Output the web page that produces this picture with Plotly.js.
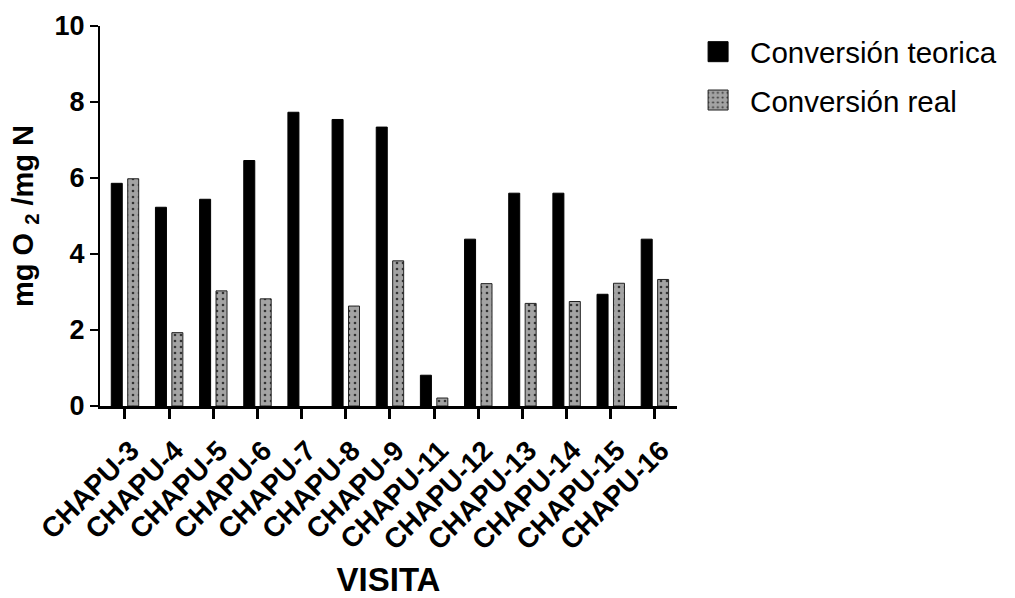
<!DOCTYPE html>
<html>
<head>
<meta charset="utf-8">
<script src="https://cdn.plot.ly/plotly-3.0.1.min.js"></script>
<style>html,body{margin:0;padding:0;background:#fff}#chart{width:1015px;height:598px}</style>
</head>
<body>
<div id="chart"></div>
<script>
const categories = ["CHAPU-3","CHAPU-4","CHAPU-5","CHAPU-6","CHAPU-7","CHAPU-8","CHAPU-9","CHAPU-11","CHAPU-12","CHAPU-13","CHAPU-14","CHAPU-15","CHAPU-16"];
const teorica = [5.86, 5.23, 5.44, 6.46, 7.73, 7.54, 7.34, 0.81, 4.39, 5.60, 5.60, 2.94, 4.39];
const real    = [5.98, 1.93, 3.03, 2.82, null, 2.63, 3.82, 0.21, 3.22, 2.70, 2.75, 3.23, 3.33];
const yTicks = [0, 2, 4, 6, 8, 10];

const FONT = "Arial, 'Liberation Sans', sans-serif";

const traces = [
  {
    type: "bar", name: "Conversión teorica", x: categories, y: teorica,
    legendgroup: "a",
    marker: {color: "#000000", line: {color: "#000000", width: 1}}
  },
  {
    type: "bar", name: "Conversión real", x: categories, y: real,
    legendgroup: "b",
    marker: {color: "#9e9e9e", line: {color: "#222222", width: 1},
      pattern: {shape: ".", fgcolor: "#333333", bgcolor: "#a3a3a3", size: 6, solidity: 0.15}}
  }
];

const layout = {
  width: 1015, height: 598,
  margin: {l: 100, r: 338, t: 26, b: 192, pad: 0},
  paper_bgcolor: "#fff", plot_bgcolor: "#fff",
  font: {family: FONT, color: "#000"},
  barmode: "group", bargap: 0.256, bargroupgap: 0.33,
  showlegend: true,
  legend: {
    x: 1.04, y: 1.0, xanchor: "left", yanchor: "top",
    font: {family: FONT, size: 29.5, color: "#000"},
    traceorder: "grouped", tracegroupgap: 7,
    itemwidth: 40, bgcolor: "rgba(0,0,0,0)"
  },
  xaxis: {
    type: "category", range: [-0.566, 12.5],
    showline: true, linecolor: "#000", linewidth: 3,
    ticks: "outside", ticklen: 10, tickwidth: 3, tickcolor: "#000",
    tickangle: -45, ticklabelstandoff: 4, ticklabelshift: 6,
    tickfont: {family: FONT, size: 28, color: "#000", weight: "bold"},
    showgrid: false, zeroline: false,
    title: {text: "<b>VISITA</b>", font: {family: FONT, size: 33, color: "#000"}, standoff: 26}
  },
  yaxis: {
    range: [0, 10], tickvals: yTicks, ticktext: yTicks.map(String),
    showline: true, linecolor: "#000", linewidth: 2,
    ticks: "outside", ticklen: 8, tickwidth: 2, tickcolor: "#000",
    tickfont: {family: FONT, size: 27, color: "#000", weight: "bold"},
    showgrid: false, zeroline: false,
    title: {text: "<b>mg O <sub>2</sub> /mg N</b>", font: {family: FONT, size: 29, color: "#000"}, standoff: 12}
  }
};

Plotly.newPlot("chart", traces, layout, {displayModeBar: false, staticPlot: true}).then(function (gd) {
  gd.querySelectorAll(".legend .legendpoints path").forEach(function (p) {
    p.setAttribute("d", "M3,10H-17V-10H3Z");
  });
});
</script>
</body>
</html>
